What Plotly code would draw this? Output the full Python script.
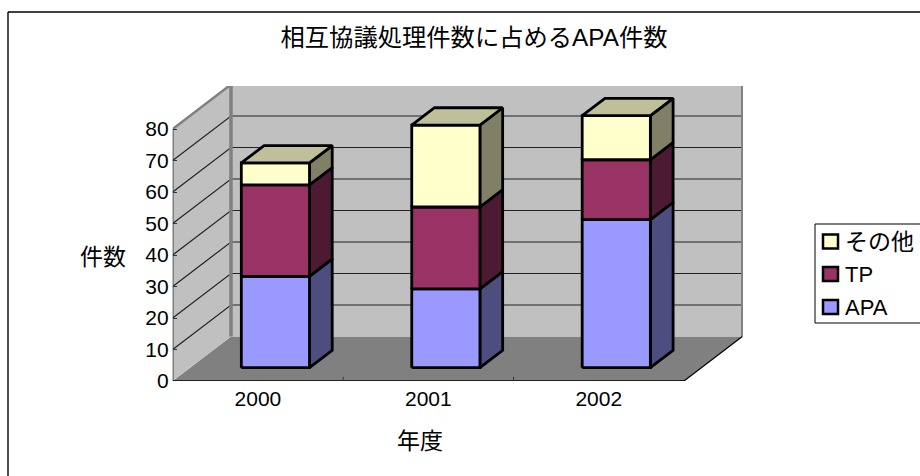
import plotly.graph_objects as go

# ---- data ----
years = ["2000", "2001", "2002"]
series_names = ["APA", "TP", "その他"]
apa = [29, 25, 47]
tp = [29, 26, 19]
other = [7, 26, 14]
y_ticks = [0, 10, 20, 30, 40, 50, 60, 70, 80]
title_text = "相互協議処理件数に占めるAPA件数"
x_title = "年度"
y_title = "件数"

# ---- styles ----
W, H = 920, 476
LEFT, RIGHT, TOP, BOTTOM = 172.7, 743.0, 86.0, 381.0
CAT_PX = (684.0 - LEFT) / 3
VAL_PX = 3.15
DEPTH_X = 58.3 / CAT_PX       # full floor depth in category units
DEPTH_Y = 44.5 / VAL_PX       # full floor depth in value units
BAR_HALF = 0.2
BAR_D0, BAR_D1 = 0.30, 0.69
FONT = "Liberation Sans, Noto Sans CJK JP, sans-serif"
FS = 21
FS_CJK = 23
FRONT = ["#9999FF", "#993366", "#FFFFCC"]
SIDE = ["#4D4D80", "#4D1A33", "#808066"]
TOP_COLOR = "#BFBF99"
WALL, FLOOR, EDGE = "#C0C0C0", "#808080", "#808080"
BAR_LINE = 2.8


def P(x, v, d=0.0):
    return x + d * DEPTH_X, v + d * DEPTH_Y


def poly(pts, fill=None, color="black", width=1.0, close=True):
    xs = [p[0] for p in pts]
    ys = [p[1] for p in pts]
    if close:
        xs.append(xs[0])
        ys.append(ys[0])
    kw = dict(fill="toself", fillcolor=fill) if fill else {}
    line = dict(color=color, width=width) if width else dict(width=0, color="rgba(0,0,0,0)")
    return go.Scatter(x=xs, y=ys, mode="lines", line=line, hoverinfo="skip",
                      showlegend=False, cliponaxis=False, **kw)


fig = go.Figure()
x0, x1 = -0.5, len(years) - 0.5
vmax = y_ticks[-1]

# walls and floor
fig.add_trace(poly([P(x0, 0), P(x1, 0), P(x1, 0, 1), P(x0, 0, 1)], fill=FLOOR, width=0))
fig.add_trace(poly([P(x0, 0, 1), P(x1, 0, 1), P(x1, vmax, 1), P(x0, vmax, 1)], fill=WALL, width=0))
fig.add_trace(poly([P(x0, 0), P(x0, 0, 1), P(x0, vmax, 1), P(x0, vmax)], fill=WALL, width=0))

# gridlines
for v in y_ticks[1:-1]:
    fig.add_trace(poly([P(x0, v), P(x0, v, 1), P(x1, v, 1)], color="#222222", width=1.2, close=False))

# wall outlines
fig.add_trace(poly([P(x0, vmax), P(x0, vmax, 1), P(x1, vmax, 1), P(x1, 0, 1)], color=EDGE, width=2.5, close=False))
fig.add_trace(poly([P(x0, 0, 1), P(x0, vmax, 1)], color=EDGE, width=3.5, close=False))

# axes
fig.add_trace(poly([P(x0, vmax), P(x0, 0)], color="#333333", width=1.5, close=False))
fig.add_trace(poly([P(x1, 0, 1), P(x1, 0)], color="black", width=1.2, close=False))
fig.add_trace(poly([P(x1, 0), P(x0, 0)], color="black", width=1.6, close=False))
for c in range(1, len(years)):
    fig.add_trace(go.Scatter(x=[c - 0.5, c - 0.5], y=[0, 1.3], mode="lines",
                             line=dict(color="#333333", width=1), hoverinfo="skip", showlegend=False))

# bars
for i in range(len(years)):
    base = 0
    stack = [apa[i], tp[i], other[i]]
    xl, xr = i - BAR_HALF, i + BAR_HALF
    for k, val in enumerate(stack):
        top = base + val
        fig.add_trace(poly([P(xr, base, BAR_D0), P(xr, base, BAR_D1), P(xr, top, BAR_D1), P(xr, top, BAR_D0)],
                           fill=SIDE[k], width=BAR_LINE))
        fig.add_trace(poly([P(xl, base, BAR_D0), P(xr, base, BAR_D0), P(xr, top, BAR_D0), P(xl, top, BAR_D0)],
                           fill=FRONT[k], width=BAR_LINE))
        base = top
    fig.add_trace(poly([P(xl, base, BAR_D0), P(xr, base, BAR_D0), P(xr, base, BAR_D1), P(xl, base, BAR_D1)],
                       fill=TOP_COLOR, width=BAR_LINE))


def fx(px):
    return px / W


def fy(py):
    return 1 - py / H


shapes = [
    dict(type="line", xref="paper", yref="paper", x0=fx(8), x1=fx(8), y0=fy(12), y1=fy(476),
         line=dict(color="black", width=1.4), layer="below"),
    dict(type="line", xref="paper", yref="paper", x0=fx(8), x1=fx(920), y0=fy(12), y1=fy(12),
         line=dict(color="black", width=1.4), layer="below"),
    dict(type="rect", xref="paper", yref="paper", x0=fx(815), x1=fx(925), y0=fy(224), y1=fy(323),
         line=dict(color="black", width=1), fillcolor="white"),
]
annotations = [
    dict(text=y_title, x=fx(103), y=fy(257), xref="paper", yref="paper", showarrow=False,
         xanchor="center", yanchor="middle", font=dict(size=FS_CJK, family=FONT, color="black")),
    dict(text=x_title, x=fx(420), y=fy(441), xref="paper", yref="paper", showarrow=False,
         xanchor="center", yanchor="middle", font=dict(size=FS_CJK, family=FONT, color="black")),
]
legend_y = [307, 274, 241.5]
for name, color, ly in zip(series_names, FRONT, legend_y):
    shapes.append(dict(type="rect", xref="paper", yref="paper", x0=fx(823), x1=fx(838),
                       y0=fy(ly - 7), y1=fy(ly + 7), fillcolor=color, line=dict(color="black", width=2.5)))
    annotations.append(dict(text=name, x=fx(842.5), y=fy(ly), xref="paper", yref="paper", showarrow=False,
                            xanchor="left", yanchor="middle",
                            font=dict(size=FS_CJK if name == "その他" else 22, family=FONT, color="black")))

fig.update_layout(
    width=W, height=H, margin=dict(l=0, r=0, t=0, b=0, autoexpand=False),
    paper_bgcolor="white", plot_bgcolor="rgba(0,0,0,0)", showlegend=False,
    title=dict(text=title_text, x=474 / W, xanchor="center", y=fy(37), yanchor="middle",
               xref="paper", yref="paper", font=dict(size=24.3, family=FONT, color="black")),
    font=dict(family=FONT, size=FS, color="black"),
    xaxis=dict(domain=[fx(LEFT), fx(RIGHT)],
               range=[x0, x0 + (RIGHT - LEFT) / CAT_PX],
               tickmode="array", tickvals=list(range(len(years))), ticktext=years,
               ticks="", showgrid=False, zeroline=False, showline=False, ticklabelstandoff=3),
    yaxis=dict(domain=[fy(BOTTOM), fy(TOP)],
               range=[0, (BOTTOM - TOP) / VAL_PX],
               tickmode="array", tickvals=y_ticks, ticktext=[str(t) for t in y_ticks],
               ticks="inside", ticklen=4, tickcolor="#333333", tickwidth=1, ticklabelstandoff=3,
               showgrid=False, zeroline=False, showline=False),
    shapes=shapes, annotations=annotations,
)

fig.write_html("out.html", config={"displayModeBar": False},
               post_script="document.body.style.margin='0';document.body.style.overflow='hidden';")
